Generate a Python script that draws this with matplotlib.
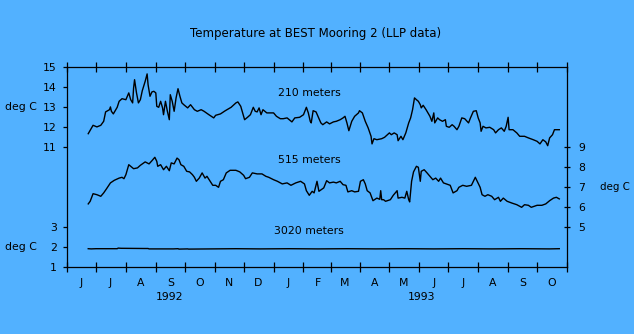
import numpy as np
import matplotlib
matplotlib.use("Agg")
import matplotlib.pyplot as plt
import matplotlib.dates as mdates
import matplotlib.transforms as mtrans
from matplotlib.ticker import FixedLocator, FuncFormatter

# ---------------- data (days since 1992-06-01, temperature in deg C) ----------------
start_date = np.datetime64("1992-06-01")
end_date = np.datetime64("1993-11-01")

days_210 = [22, 25, 27, 31, 35, 38, 40, 44, 45, 46, 48, 50, 52, 54, 57, 61, 64, 66, 68, 69,
            70, 72, 74, 76, 78, 81, 83, 84, 86, 88, 90, 92, 93, 95, 97, 99, 100, 102, 104, 106,
            107, 109, 111, 113, 115, 117, 119, 121, 125, 128, 132, 135, 139, 142, 147, 152, 154, 159, 164, 170,
            175, 177, 180, 182, 184, 187, 190, 193, 195, 197, 199, 201, 203, 207, 210, 214, 217, 221, 224, 228,
            233, 236, 241, 245, 248, 250, 252, 253, 255, 258, 260, 263, 265, 269, 272, 276, 279, 283, 286, 288,
            290, 292, 295, 298, 302, 303, 306, 309, 312, 315, 316, 318, 321, 326, 329, 334, 336, 339, 342, 343,
            346, 348, 351, 354, 356, 358, 360, 362, 364, 366, 367, 369, 372, 374, 376, 378, 380, 381, 384, 386,
            389, 392, 393, 396, 399, 401, 404, 406, 409, 412, 416, 418, 421, 424, 426, 428, 429, 431, 434, 438,
            442, 444, 447, 450, 453, 455, 457, 458, 462, 466, 469, 474, 478, 483, 487, 490, 493, 496, 498, 500,
            503, 505, 510]
temp_210 = [11.68, 11.93, 12.10, 12.02, 12.10, 12.30, 12.77, 12.88, 13.02, 12.80, 12.67, 12.83, 13.00, 13.30, 13.43, 13.38, 13.72, 13.38, 13.22, 13.97,
            14.38, 13.72, 13.22, 13.38, 13.83, 14.30, 14.67, 14.13, 13.55, 13.77, 13.80, 13.72, 13.05, 13.00, 13.30, 12.97, 12.63, 13.30, 12.80, 12.38,
            13.63, 13.30, 12.80, 13.47, 13.93, 13.55, 13.22, 13.13, 12.97, 13.13, 12.88, 12.80, 12.88, 12.80, 12.63, 12.47, 12.60, 12.67, 12.83, 13.00,
            13.22, 13.27, 13.05, 12.72, 12.38, 12.50, 12.63, 13.00, 12.80, 12.77, 12.97, 12.63, 12.88, 12.72, 12.72, 12.72, 12.55, 12.43, 12.43, 12.47,
            12.27, 12.47, 12.50, 12.63, 13.00, 12.72, 12.30, 12.22, 12.83, 12.77, 12.55, 12.22, 12.13, 12.27, 12.17, 12.27, 12.30, 12.38, 12.47, 12.55,
            12.22, 11.83, 12.30, 12.55, 12.72, 12.83, 12.72, 12.30, 11.97, 11.55, 11.17, 11.43, 11.38, 11.43, 11.50, 11.72, 11.63, 11.72, 11.63, 11.33,
            11.55, 11.38, 11.72, 12.22, 12.47, 12.88, 13.47, 13.38, 13.30, 13.13, 12.97, 13.10, 12.88, 12.72, 12.55, 12.30, 12.72, 12.22, 12.47, 12.38,
            12.30, 12.38, 12.05, 12.00, 12.13, 12.05, 11.88, 12.05, 12.47, 12.43, 12.22, 12.47, 12.80, 12.83, 12.47, 12.22, 11.80, 12.05, 11.97, 12.00,
            11.88, 11.72, 11.88, 11.97, 11.80, 12.05, 12.50, 11.88, 11.88, 11.72, 11.55, 11.55, 11.47, 11.38, 11.30, 11.17, 11.38, 11.27, 11.08, 11.47,
            11.63, 11.88, 11.88]

days_515 = [22, 24, 27, 31, 35, 38, 41, 45, 49, 54, 57, 59, 61, 64, 66, 69, 73, 76, 81, 85,
            88, 91, 93, 94, 97, 100, 103, 106, 108, 111, 114, 116, 118, 121, 124, 127, 130, 132, 134, 137,
            140, 143, 145, 148, 151, 154, 157, 159, 162, 165, 169, 175, 179, 183, 185, 189, 192, 197, 202, 206,
            209, 214, 218, 223, 228, 232, 237, 242, 246, 248, 251, 254, 256, 259, 261, 266, 269, 272, 276, 279,
            283, 286, 289, 291, 295, 298, 302, 304, 307, 309, 311, 314, 317, 321, 324, 325, 326, 328, 330, 335,
            338, 342, 343, 347, 350, 352, 354, 355, 357, 359, 362, 364, 366, 367, 370, 373, 376, 379, 382, 385,
            387, 390, 393, 397, 400, 404, 406, 410, 414, 419, 423, 425, 428, 430, 433, 436, 440, 443, 447, 449,
            452, 456, 461, 466, 471, 474, 478, 481, 487, 492, 496, 500, 504, 507, 510]
temp_515 = [6.17, 6.30, 6.68, 6.63, 6.55, 6.72, 6.93, 7.22, 7.35, 7.46, 7.50, 7.43, 7.63, 8.13, 8.05, 7.93, 7.97, 8.10, 8.27, 8.17,
            8.33, 8.50, 8.30, 8.05, 8.13, 7.88, 8.05, 7.83, 8.22, 8.17, 8.46, 8.38, 8.13, 8.05, 7.80, 7.77, 7.63, 7.50, 7.30, 7.46,
            7.72, 7.46, 7.55, 7.33, 7.10, 7.10, 7.00, 7.30, 7.38, 7.72, 7.85, 7.85, 7.77, 7.60, 7.43, 7.50, 7.72, 7.67, 7.67, 7.55,
            7.50, 7.38, 7.30, 7.17, 7.22, 7.10, 7.22, 7.30, 7.17, 6.83, 6.60, 6.80, 6.72, 7.30, 6.80, 6.97, 7.33, 7.22, 7.26, 7.22,
            7.30, 7.13, 7.10, 6.77, 6.83, 6.77, 6.80, 7.30, 7.38, 7.17, 6.83, 6.72, 6.33, 6.46, 6.40, 6.83, 6.38, 6.38, 6.30, 6.38,
            6.60, 6.83, 6.46, 6.50, 6.46, 6.80, 6.38, 6.27, 7.30, 7.77, 8.05, 8.00, 7.30, 7.80, 7.88, 7.72, 7.55, 7.38, 7.46, 7.30,
            7.46, 7.22, 7.17, 7.10, 6.72, 6.83, 7.00, 7.10, 7.05, 7.10, 7.50, 7.30, 7.00, 6.63, 6.55, 6.63, 6.55, 6.38, 6.50, 6.30,
            6.46, 6.30, 6.21, 6.13, 6.00, 6.13, 6.10, 6.00, 6.10, 6.10, 6.17, 6.33, 6.46, 6.50, 6.42]

days_3020 = [22, 25, 30, 45, 52, 53, 56, 80, 84, 85, 110, 115, 116, 125, 126, 150, 175, 200, 230, 260,
             290, 320, 350, 380, 410, 440, 470, 500, 510]
temp_3020 = [1.93, 1.92, 1.93, 1.93, 1.93, 1.96, 1.95, 1.94, 1.94, 1.92, 1.92, 1.93, 1.91, 1.92, 1.91, 1.92, 1.93, 1.92, 1.93, 1.92,
             1.93, 1.92, 1.93, 1.92, 1.93, 1.92, 1.93, 1.92, 1.93]

left_ticks_210 = [11, 12, 13, 14, 15]
left_ticks_3020 = [1, 2, 3]
right_ticks_515 = [5, 6, 7, 8, 9]

title = "Temperature at BEST Mooring 2 (LLP data)"
series_labels = ["210 meters", "515 meters", "3020 meters"]
year_labels = ["1992", "1993"]

# ---------------- style ----------------
BG = "#52B1FF"
FS = 7.8
plt.rcParams["font.family"] = ["DejaVu Sans"]
plt.rcParams["font.size"] = FS

W, H = 634, 334
fig = plt.figure(figsize=(W / 100, H / 100), dpi=100, facecolor=BG)
pos = [67 / W, (H - 267.3) / H, 500 / W, 200 / H]

def to_dates(d):
    return start_date + np.array(d).astype("timedelta64[D]")

ax = fig.add_axes(pos)                       # 210 m (left axis, 5..15)
ax3020 = fig.add_axes(pos, sharex=ax)        # 3020 m (left axis, 1..11)
ax515 = fig.add_axes(pos, sharex=ax)         # 515 m (right axis, 3..13)

for a in (ax, ax3020, ax515):
    a.set_facecolor("none")

lw = 1.0
ax.plot(to_dates(days_210), temp_210, color="black", lw=lw)
ax515.plot(to_dates(days_515), temp_515, color="black", lw=lw)
ax3020.plot(to_dates(days_3020), temp_3020, color="black", lw=lw)

ax.set_ylim(5, 15)
ax3020.set_ylim(1, 11)
ax515.set_ylim(3, 13)
ax.set_xlim(start_date, end_date)

for s in ax.spines.values():
    s.set_linewidth(0.9)
    s.set_color("black")
for a in (ax3020, ax515):
    for s in a.spines.values():
        s.set_visible(False)

ax.xaxis.set_major_locator(mdates.MonthLocator())
ax.xaxis.set_major_formatter(FuncFormatter(lambda v, p: ""))
ax.xaxis.set_minor_locator(mdates.MonthLocator(bymonthday=16))
ax.xaxis.set_minor_formatter(FuncFormatter(lambda v, p: mdates.num2date(v).strftime("%b")[0]))
ax.tick_params(axis="x", which="major", direction="inout", length=6.5, width=0.9,
               top=True, bottom=True, labeltop=False)
ax.tick_params(axis="x", which="minor", length=0, pad=7.5, labelsize=FS)

ax.yaxis.set_major_locator(FixedLocator(left_ticks_210))
ax.yaxis.set_minor_locator(FixedLocator([]))
ax.tick_params(axis="y", which="both", direction="out", length=3.2, width=0.9, pad=4.0,
               left=True, right=False, labelsize=FS)

ax3020.yaxis.set_major_locator(FixedLocator(left_ticks_3020))
ax3020.tick_params(axis="y", direction="out", length=3.2, width=0.9, pad=4.0,
                   left=True, right=False, labelsize=FS)
ax3020.tick_params(axis="x", which="both", bottom=False, top=False,
                   labelbottom=False, labeltop=False)

ax515.yaxis.set_major_locator(FixedLocator(right_ticks_515))
ax515.tick_params(axis="y", direction="inout", length=5.0, width=0.9, pad=5.5,
                  left=False, labelleft=False, right=True, labelright=True, labelsize=FS)
ax515.tick_params(axis="x", which="both", bottom=False, top=False,
                  labelbottom=False, labeltop=False)

lab_date = start_date + np.timedelta64(251, "D")
ax.text(lab_date, 13.7, series_labels[0], ha="center", va="center", fontsize=FS)
ax515.text(lab_date, 8.37, series_labels[1], ha="center", va="center", fontsize=FS)
ax3020.text(lab_date, 2.82, series_labels[2], ha="center", va="center", fontsize=FS)

trans = mtrans.blended_transform_factory(ax.transData, ax.transAxes)
ax.text(np.datetime64("1992-09-15"), -0.147, year_labels[0], transform=trans,
        ha="center", va="center", fontsize=FS)
ax.text(np.datetime64("1993-06-03"), -0.147, year_labels[1], transform=trans,
        ha="center", va="center", fontsize=FS)

fig.text(5 / W, 1 - 107 / H, "deg C", ha="left", va="center", fontsize=FS)
fig.text(5 / W, 1 - 247 / H, "deg C", ha="left", va="center", fontsize=FS)
fig.text(600 / W, 1 - 187 / H, "deg C", ha="left", va="center", fontsize=7.4)

fig.text(316 / W, 1 - 33 / H, title, ha="center", va="center", fontsize=8.5)

fig.savefig("out.png", dpi=100, facecolor=BG)
